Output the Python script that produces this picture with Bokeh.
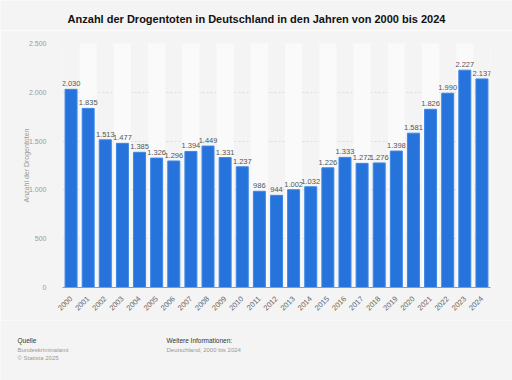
import math
from bokeh.plotting import figure
from bokeh.layouts import column
from bokeh.models import ColumnDataSource, FixedTicker, FactorRange, Range1d
from bokeh.core.properties import value
from bokeh.embed import file_html
from bokeh.resources import INLINE

years = [str(y) for y in range(2000, 2025)]
deaths = [2030, 1835, 1513, 1477, 1385, 1326, 1296, 1394, 1449, 1331, 1237, 986, 944,
          1002, 1032, 1226, 1333, 1272, 1276, 1398, 1581, 1826, 1990, 2227, 2137]
y_ticks = [0, 500, 1000, 1500, 2000, 2500]
y_tick_labels = ["0", "500", "1.000", "1.500", "2.000", "2.500"]
title_text = "Anzahl der Drogentoten in Deutschland in den Jahren von 2000 bis 2024"
y_label = "Anzahl der Drogentoten"
footer_heads = ["Quelle", "Weitere Informationen:"]
footer_lines_left = ["Bundeskriminalamt", "© Statista 2025"]
footer_lines_right = ["Deutschland; 2000 bis 2024"]

FONT = "Liberation Sans"
BG = "#f4f4f4"
W = 512


def text_panel(height):
    fig = figure(x_range=Range1d(0, W), y_range=Range1d(height, 0), width=W, height=height,
                 output_backend="svg", toolbar_location=None,
                 x_axis_location=None, y_axis_location=None,
                 min_border=0, min_border_left=0, min_border_right=0,
                 min_border_top=0, min_border_bottom=0)
    fig.frame_align = False
    fig.grid.visible = False
    fig.background_fill_color = BG
    fig.border_fill_color = BG
    fig.outline_line_color = None
    return fig


# header with the title
h = text_panel(30)
h.text(x=[W / 2], y=[18], text=[title_text], text_font=value(FONT),
       text_font_size="11px", text_font_style="bold", text_color="#111111",
       text_align="center", text_baseline="middle")

labels = [f"{v:,}".replace(",", ".") for v in deaths]
src = ColumnDataSource(dict(x=years, top=deaths, lab=labels))
band_src = ColumnDataSource(dict(x=years[1::2], top=[y_ticks[-1]] * len(years[1::2])))

p = figure(x_range=FactorRange(*years, range_padding=0),
           y_range=Range1d(0, 2500),
           width=W, height=290, output_backend="svg", toolbar_location=None,
           min_border_left=62, min_border_right=22, min_border_top=13, min_border_bottom=33)
p.frame_align = False
p.background_fill_color = BG
p.border_fill_color = BG
p.outline_line_color = None

p.vbar(x="x", top="top", width=1.0, bottom=0, source=band_src,
       fill_color="#fafafa", line_color=None)
p.vbar(x="x", top="top", width=0.7, source=src,
       fill_color="#2673dc", line_color="#3d87e8", line_width=1)
p.text(x="x", y="top", text="lab", source=src, text_align="center",
       text_baseline="bottom", y_offset=-3, text_font=value(FONT),
       text_font_size="7.5px", text_color="#555555")

p.ygrid.grid_line_color = "#dddddd"
p.ygrid.grid_line_dash = "2 2"
p.xgrid.grid_line_color = None

p.yaxis.ticker = FixedTicker(ticks=y_ticks)
p.yaxis.major_label_overrides = {t: l for t, l in zip(y_ticks, y_tick_labels)}
p.yaxis.axis_line_color = None
p.yaxis.major_tick_line_color = None
p.yaxis.minor_tick_line_color = None
p.yaxis.major_label_text_font = FONT
p.yaxis.major_label_text_font_size = "7px"
p.yaxis.major_label_text_color = "#999999"
p.yaxis.major_label_standoff = 10
p.yaxis.axis_label = y_label
p.yaxis.axis_label_text_font = FONT
p.yaxis.axis_label_text_font_size = "7px"
p.yaxis.axis_label_text_font_style = "normal"
p.yaxis.axis_label_text_color = "#999999"
p.yaxis.axis_label_standoff = -4

p.xaxis.axis_line_color = "#999999"
p.xaxis.major_tick_line_color = None
p.xaxis.minor_tick_line_color = None
p.xaxis.major_label_orientation = math.pi / 4
p.xaxis.major_label_text_font = FONT
p.xaxis.major_label_text_font_size = "7.5px"
p.xaxis.major_label_text_color = "#666666"
p.xaxis.major_label_standoff = 4

# footer
f = text_panel(60)
f.text(x=[17, 166], y=[20, 20], text=footer_heads, text_font=value(FONT),
       text_font_size="6.5px", text_color="#333333", text_baseline="middle")
f.text(x=[17] * len(footer_lines_left), y=[29, 37], text=footer_lines_left,
       text_font=value(FONT), text_font_size="6px", text_color="#999999",
       text_baseline="middle")
f.text(x=[166], y=[29], text=footer_lines_right, text_font=value(FONT),
       text_font_size="6px", text_color="#999999", text_baseline="middle")

layout = column(h, p, f, spacing=0)
open("out.html", "w").write(file_html(layout, INLINE))
